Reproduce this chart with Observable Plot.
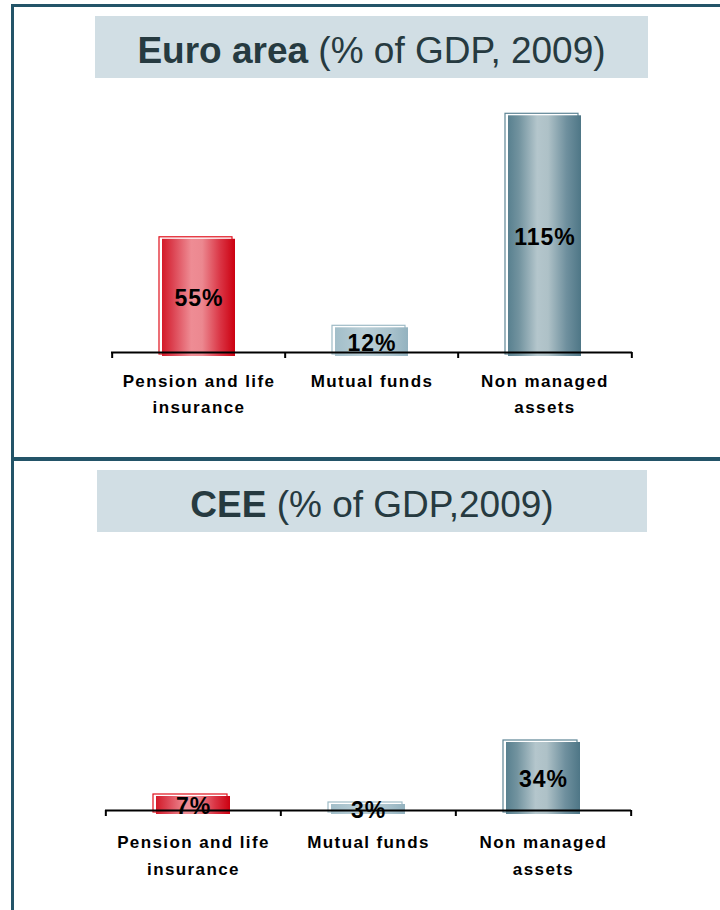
<!DOCTYPE html>
<html>
<head>
<meta charset="utf-8">
<script src="https://cdn.jsdelivr.net/npm/d3@7"></script>
<script src="https://cdn.jsdelivr.net/npm/@observablehq/plot@0.6"></script>
<style>
  html, body { margin: 0; padding: 0; background: #ffffff; }
  #page { position: relative; width: 720px; height: 910px; overflow: hidden; background: #ffffff;
          font-family: "Liberation Sans", Arial, sans-serif; }
  .rule { position: absolute; background: #235468; }
  .title { position: absolute; height: 62px; background: #D1DEE4; text-align: center;
           font-size: 37px; line-height: 70px; color: #263A40; white-space: nowrap; }
  .title b { font-weight: bold; }
  .chart { position: absolute; left: 0; }
  .chart g[font-size="17"] text { letter-spacing: 1.4px; }
  .chart g[font-size="23"] text { letter-spacing: 1px; }
</style>
</head>
<body>
<div id="page">
  <svg width="0" height="0" style="position:absolute">
    <defs>
      <linearGradient id="gRed" x1="0" x2="1" y1="0" y2="0">
        <stop offset="0%" stop-color="#D41A28"/>
        <stop offset="15%" stop-color="#DC4352"/>
        <stop offset="40%" stop-color="#EE8C94"/>
        <stop offset="55%" stop-color="#EC8890"/>
        <stop offset="80%" stop-color="#DA3444"/>
        <stop offset="100%" stop-color="#CC0010"/>
      </linearGradient>
      <linearGradient id="gLight" x1="0" x2="1" y1="0" y2="0">
        <stop offset="0%" stop-color="#A2BEC9"/>
        <stop offset="40%" stop-color="#B9CED6"/>
        <stop offset="75%" stop-color="#AAC3CD"/>
        <stop offset="100%" stop-color="#93B2BF"/>
      </linearGradient>
      <linearGradient id="gGrey" x1="0" x2="1" y1="0" y2="0">
        <stop offset="0%" stop-color="#58808F"/>
        <stop offset="15%" stop-color="#72939F"/>
        <stop offset="40%" stop-color="#B4C6CC"/>
        <stop offset="55%" stop-color="#AEC1C7"/>
        <stop offset="80%" stop-color="#6F909E"/>
        <stop offset="100%" stop-color="#4E7686"/>
      </linearGradient>
    </defs>
  </svg>

  <div class="rule" style="left:11px;top:4px;width:709px;height:3px"></div>
  <div class="rule" style="left:11px;top:4px;width:3px;height:906px"></div>
  <div class="rule" style="left:11px;top:457px;width:709px;height:4px"></div>

  <div class="title" id="title1" style="left:95px;top:16px;width:553px"></div>
  <div class="chart" id="chart1" style="top:90px"></div>

  <div class="title" id="title2" style="left:97px;top:470px;width:550px"></div>
  <div class="chart" id="chart2" style="top:545px"></div>
</div>

<script>
// ---- data ----
const categories = ["Pension and life insurance", "Mutual funds", "Non managed assets"];
const tickLabels = ["Pension and life\ninsurance", "Mutual funds", "Non managed\nassets"];
const euroValues = [55, 12, 115];
const ceeValues = [7, 3, 34];
const titleBold = ["Euro area", "CEE"];
const titleRest = [" (% of GDP, 2009)", " (% of GDP,2009)"];

// ---- styles ----
const barFills = ["url(#gRed)", "url(#gLight)", "url(#gGrey)"];
const barOutlines = ["#E0101C", "#9EBBC6", "#5E8595"];

function panel(values, opts) {
  const data = categories.map((c, i) => ({cat: c, v: values[i], label: tickLabels[i]}));
  const width = 720;
  const step = (width - opts.marginLeft - opts.marginRight) / categories.length;
  const marks = [];
  categories.forEach((c, i) => {
    const sub = data.filter(d => d.cat === c);
    marks.push(Plot.barY(sub, {x: "cat", y1: 0, y2: "v", fill: "none", stroke: barOutlines[i],
      strokeWidth: 1.2, dx: -3, dy: -2, insetBottom: -4}));
    marks.push(Plot.barY(sub, {x: "cat", y1: 0, y2: "v", fill: barFills[i], insetBottom: -4}));
  });
  marks.push(Plot.ruleY([0], {stroke: "#000", strokeWidth: 2.2}));
  marks.push(Plot.ruleX(categories, {x: d => d, y1: 0, y2: 0, dx: -step / 2, insetBottom: -6, stroke: "#000", strokeWidth: 2}));
  marks.push(Plot.ruleX(categories.slice(-1), {x: d => d, y1: 0, y2: 0, dx: step / 2, insetBottom: -6, stroke: "#000", strokeWidth: 2}));
  marks.push(Plot.text(data, {x: "cat", y: d => d.v / 2, text: d => d.v + "%", fontSize: 23, fontWeight: "bold",
    fill: "#000", dy: 3}));
  marks.push(Plot.text(data, {x: "cat", y: 0, text: "label", fontSize: 17, fontWeight: "bold", fill: "#000",
    lineAnchor: "top", lineHeight: opts.lineHeight, dy: opts.labelDy}));
  return Plot.plot({
    width,
    height: opts.height,
    marginLeft: opts.marginLeft,
    marginRight: opts.marginRight,
    marginTop: opts.marginTop,
    marginBottom: opts.marginBottom,
    style: {background: "transparent", fontFamily: "'Liberation Sans', Arial, sans-serif", overflow: "visible"},
    x: {domain: categories, axis: null, paddingInner: 0.58, paddingOuter: 0.29},
    y: {domain: [0, 120], axis: null},
    marks
  });
}

function setTitle(id, i) {
  const el = document.getElementById(id);
  const b = document.createElement("b");
  b.textContent = titleBold[i];
  el.appendChild(b);
  el.appendChild(document.createTextNode(titleRest[i]));
}
setTitle("title1", 0);
setTitle("title2", 1);

document.getElementById("chart1").appendChild(panel(euroValues, {
  height: 340, marginLeft: 111, marginRight: 88, marginTop: 15, marginBottom: 78, labelDy: 16.5, lineHeight: 1.53
}));
document.getElementById("chart2").appendChild(panel(ceeValues, {
  height: 365, marginLeft: 105, marginRight: 89, marginTop: 25, marginBottom: 100, labelDy: 18.5, lineHeight: 1.59
}));
</script>
</body>
</html>
